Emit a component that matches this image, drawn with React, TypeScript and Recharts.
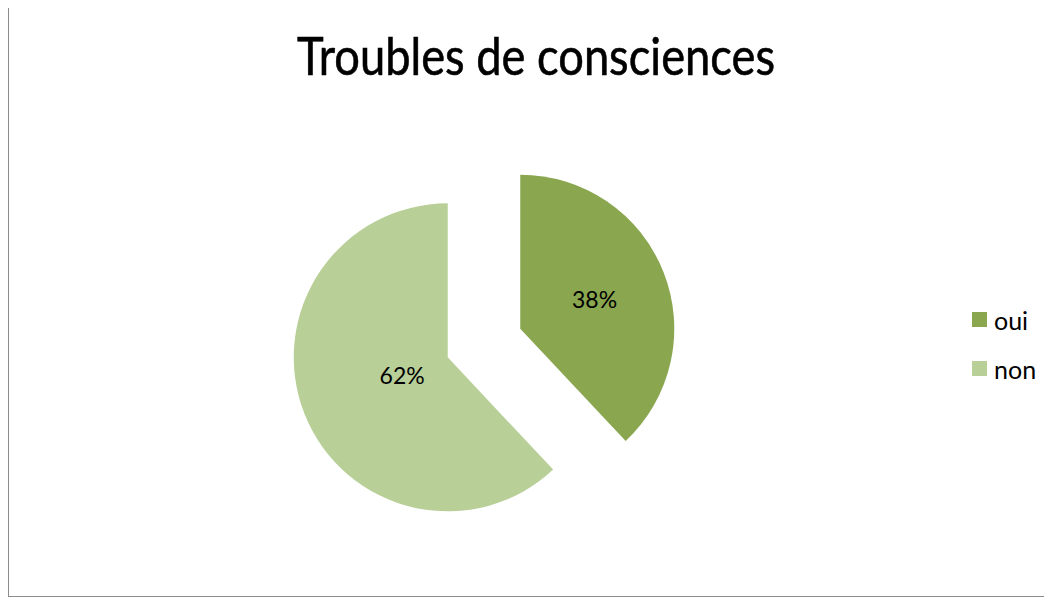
import { PieChart, Pie, Cell, Legend, Sector } from 'recharts';

const CATEGORIES = ['oui', 'non'];
const VALUES = [38, 62];
const COLORS = ['#8AA64F', '#B9CF98'];

const TITLE = 'Troubles de consciences';

const data = CATEGORIES.map((name, i) => ({ name, value: VALUES[i] }));

const RAD = Math.PI / 180;
const EXPLODE = 39;
const FONT = 'Lato, "Open Sans", sans-serif';

// push each slice outward along its mid angle
function ExplodedSector(props: any) {
  const { cx, cy, midAngle } = props;
  const dx = EXPLODE * Math.cos(-midAngle * RAD);
  const dy = EXPLODE * Math.sin(-midAngle * RAD);
  return <Sector {...props} cx={cx + dx} cy={cy + dy} stroke="none" />;
}

function renderLabel(props: any) {
  const { cx, cy, midAngle, outerRadius, percent } = props;
  // centroid of the sector, plus the explode offset
  const half = Math.PI * percent;
  const d = EXPLODE + ((2 / 3) * outerRadius * Math.sin(half)) / half;
  const x = cx + d * Math.cos(-midAngle * RAD);
  const y = cy + d * Math.sin(-midAngle * RAD);
  return (
    <text
      x={x}
      y={y}
      textAnchor="middle"
      dominantBaseline="central"
      fill="#000"
      fontSize={23}
      fontFamily={FONT}
    >
      {`${Math.round(percent * 100)}%`}
    </text>
  );
}

function LegendContent() {
  return (
    <div style={{ fontFamily: FONT, fontSize: 25, color: '#000' }}>
      {CATEGORIES.map((name, i) => (
        <div
          key={name}
          style={{ display: 'flex', alignItems: 'center', height: 49 }}
        >
          <span
            style={{
              width: 15,
              height: 15,
              background: COLORS[i],
              marginRight: 7,
              display: 'inline-block',
            }}
          />
          <span>{name}</span>
        </div>
      ))}
    </div>
  );
}

export default function App() {
  return (
    <div
      style={{
        position: 'relative',
        width: 1046,
        height: 590,
        marginTop: -1,
        border: '1.5px solid #8c8c8c',
        boxSizing: 'border-box',
        background: '#fff',
      }}
    >
      <div
        style={{
          position: 'absolute',
          left: 0,
          top: 16,
          width: 1054,
          textAlign: 'center',
          fontFamily: FONT,
          fontSize: 52,
          color: '#000',
          transform: 'scaleX(0.87)',
          transformOrigin: '527px 0',
          WebkitTextStroke: '0.6px #000',
        }}
      >
        {TITLE}
      </div>
      <div style={{ position: 'absolute', left: 0, top: 0 }}>
        <PieChart width={1044} height={588}>
          <Pie
            data={data}
            dataKey="value"
            nameKey="name"
            cx={470}
            cy={330}
            outerRadius={154}
            startAngle={90}
            endAngle={-270}
            shape={ExplodedSector}
            activeShape={ExplodedSector}
            inactiveShape={ExplodedSector}
            label={renderLabel}
            labelLine={false}
            isAnimationActive={false}
          >
            {data.map((entry, i) => (
              <Cell key={entry.name} fill={COLORS[i]} stroke="none" />
            ))}
          </Pie>
          <Legend
            content={<LegendContent />}
            layout="vertical"
            wrapperStyle={{ left: 963, top: 287, width: 80, bottom: 'auto' }}
          />
        </PieChart>
      </div>
    </div>
  );
}
